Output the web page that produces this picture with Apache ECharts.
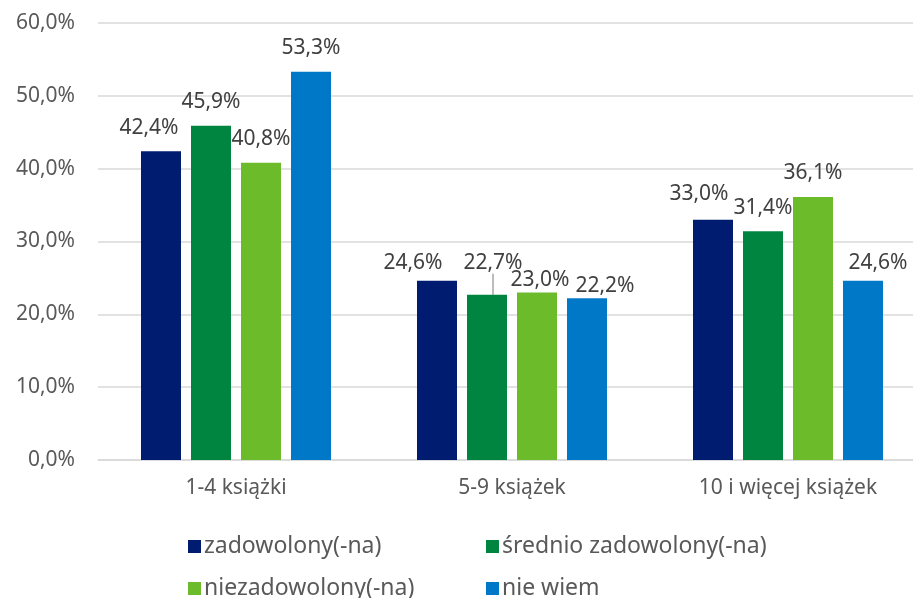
<!DOCTYPE html>
<html>
<head>
<meta charset="utf-8">
<script src="https://cdn.jsdelivr.net/npm/echarts@6/dist/echarts.min.js"></script>
<style>
  html, body { margin: 0; padding: 0; background: #fff; }
  #chart { width: 913px; height: 598px; }
</style>
</head>
<body>
<div id="chart"></div>
<script>
// categories and values (percent)
const categories = ['1-4 książki', '5-9 książek', '10 i więcej książek']
const seriesNames = ['zadowolony(-na)', 'średnio zadowolony(-na)', 'niezadowolony(-na)', 'nie wiem']
const zadowolony = [42.4, 24.6, 33.0]
const srednio = [45.9, 22.7, 31.4]
const niezadowolony = [40.8, 23.0, 36.1]
const nieWiem = [53.3, 22.2, 24.6]
const yTicks = [0, 10, 20, 30, 40, 50, 60]

const colors = ['#001c71', '#008540', '#6cbb2a', '#0078c8']
// label nudges like in the original (dx, dy per bar)
const labelNudge = [
    [[-12, 0], [-24, 6], [-14, -2]],
    [[0, 0], [6, -8], [0, 0]],
    [[0, 0], [3, 11], [0, -1]],
    [[0, 0], [18, 11], [15, 6]]
]

const font = '"Noto Sans", "Open Sans", sans-serif'
const fmt = v => v.toFixed(1).replace('.', ',') + '%'

const echart = echarts.init(document.getElementById('chart'))
const values = [zadowolony, srednio, niezadowolony, nieWiem]

const legendLeft = [183, 481, 183, 481]
const legendTop = [530, 530, 572, 572]

const options = {
    animation: false,
    textStyle: { fontFamily: font },
    legend: seriesNames.map((name, i) => ({
        data: [name],
        left: legendLeft[i],
        top: legendTop[i],
        itemWidth: 13,
        itemHeight: 13,
        itemGap: 4,
        icon: 'rect',
        textStyle: { fontSize: 23, color: '#595959', fontFamily: font, padding: [0, 0, 0, -2] }
    })),
    grid: {
        left: 98,
        top: 23,
        right: -13,
        bottom: 138,
        outerBoundsMode: 'none'
    },
    xAxis: {
        type: 'category',
        data: categories,
        axisTick: { show: false },
        axisLine: { lineStyle: { color: '#d9d9d9', width: 1.5 } },
        axisLabel: { color: '#595959', fontSize: 21, margin: 18 }
    },
    yAxis: {
        type: 'value',
        min: yTicks[0],
        max: yTicks[yTicks.length - 1],
        interval: 10,
        axisLabel: { color: '#595959', fontSize: 21, margin: 23, formatter: v => fmt(v) },
        splitLine: { lineStyle: { color: '#d9d9d9', width: 1.5 } }
    },
    series: values.map((vals, i) => ({
        name: seriesNames[i],
        type: 'bar',
        barWidth: 40,
        barGap: '25%',
        itemStyle: { color: colors[i] },
        label: {
            show: true,
            position: 'top',
            distance: 13,
            color: '#404040',
            fontSize: 21,
            formatter: p => fmt(p.value)
        },
        labelLine: { show: false },
        labelLayout: p => {
            const n = labelNudge[i][p.dataIndex]
            return { dx: n[0], dy: n[1] }
        },
        data: vals.map((v, j) => (i === 1 && j === 1)
            ? { value: v, labelLine: { show: true, lineStyle: { color: '#a6a6a6', width: 1.5 } } }
            : v)
    }))
}
echart.setOption(options)
</script>
</body>
</html>
